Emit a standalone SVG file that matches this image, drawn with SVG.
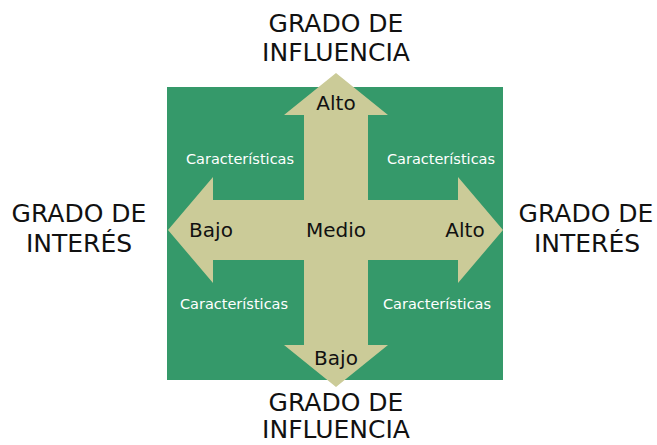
<svg xmlns="http://www.w3.org/2000/svg" width="657" height="445" viewBox="0 0 657 445">
<style>
.lbl{font-family:"DejaVu Sans","Verdana",sans-serif;font-size:25px;fill:#111;text-anchor:middle}
.in{font-family:"DejaVu Sans","Verdana",sans-serif;font-size:20px;fill:#111;text-anchor:middle}
.ch{font-family:"DejaVu Sans","Verdana",sans-serif;font-size:14.5px;fill:#fff;text-anchor:middle}
</style>
<rect width="657" height="445" fill="#fff"/>
<g id="board">
<rect x="167" y="87" width="336" height="293" fill="#35996a"/>
</g>
<g id="connectors">
<polygon fill="#cbcb98" points="336,73 388,115 368,115 368,200 458,200 458,177 503,230 458,283 458,260 368,260 368,345 388,345 336,387 284,345 304,345 304,260 213,260 213,283 168,230 213,177 213,200 304,200 304,115 284,115"/>
</g>
<g id="influencia-top">
<text class="lbl" x="336" y="32">GRADO DE</text>
<text class="lbl" x="336" y="61">INFLUENCIA</text>
</g>
<g id="influencia-bottom">
<text class="lbl" x="336" y="411">GRADO DE</text>
<text class="lbl" x="336" y="438">INFLUENCIA</text>
</g>
<g id="interes-left">
<text class="lbl" x="79" y="222">GRADO DE</text>
<text class="lbl" x="79" y="252">INTERÉS</text>
</g>
<g id="interes-right">
<text class="lbl" x="586" y="222">GRADO DE</text>
<text class="lbl" x="587" y="252">INTERÉS</text>
</g>
<g id="levels">
<text class="in" x="336" y="110">Alto</text>
<text class="in" x="336" y="365">Bajo</text>
<text class="in" x="211" y="237">Bajo</text>
<text class="in" x="336" y="237">Medio</text>
<text class="in" x="465" y="237">Alto</text>
</g>
<g id="caracteristicas">
<text class="ch" x="240" y="164">Características</text>
<text class="ch" x="441" y="164">Características</text>
<text class="ch" x="234" y="309">Características</text>
<text class="ch" x="437" y="309">Características</text>
</g>
</svg>
